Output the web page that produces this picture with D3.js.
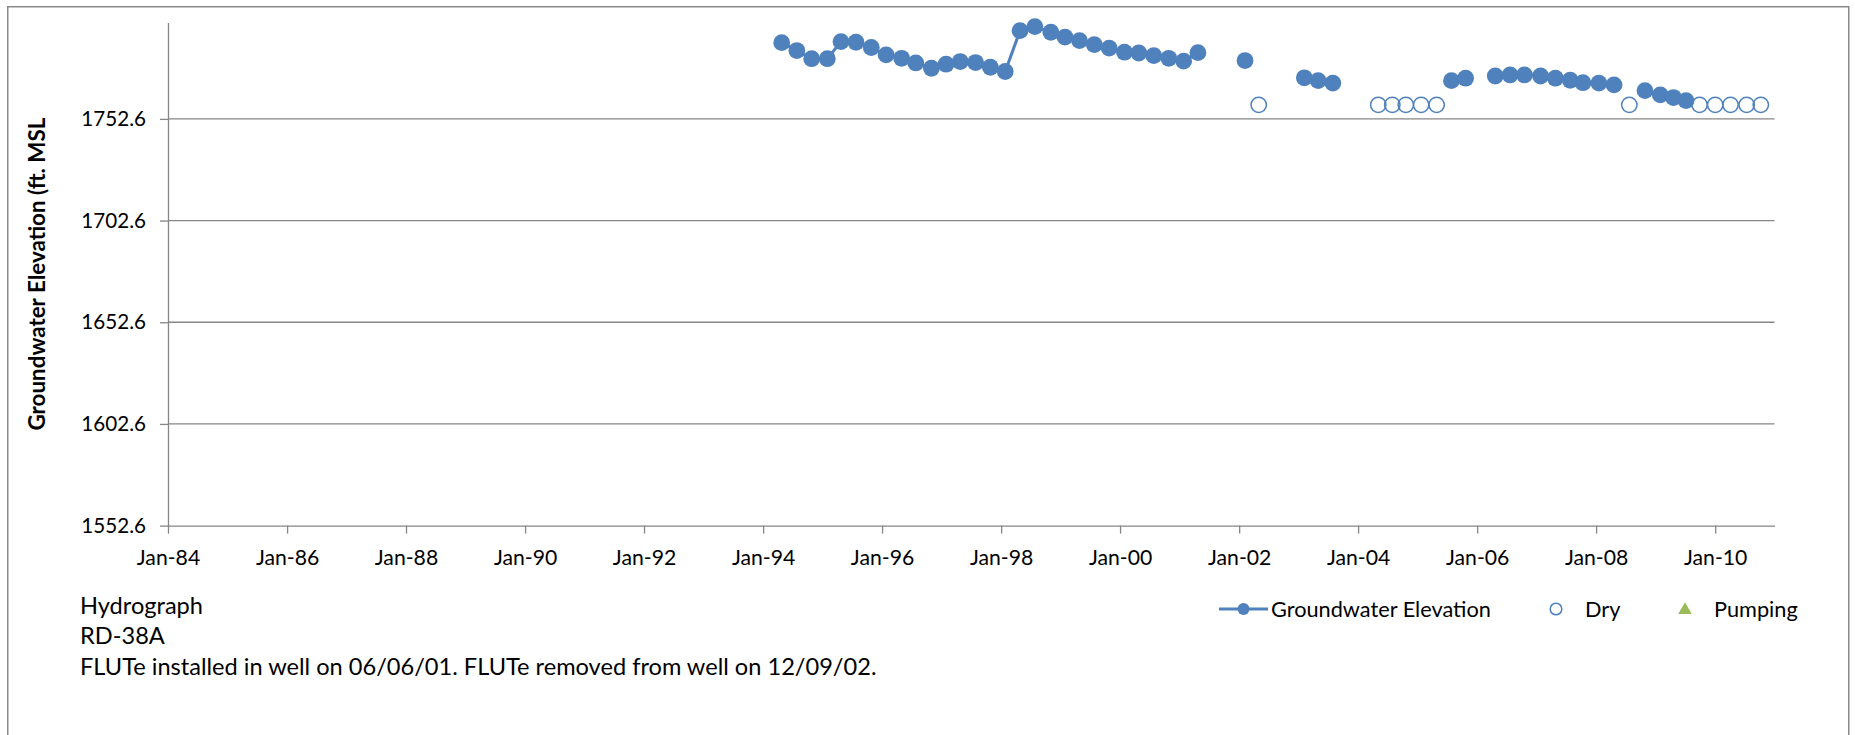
<!DOCTYPE html>
<html><head><meta charset="utf-8">
<script src="https://cdn.jsdelivr.net/npm/d3@7"></script>
<style>body{margin:0;background:#fff;} svg{display:block;}</style>
</head><body>
<svg id="chart" width="1855" height="735"></svg>
<script>
// ---------------- data ----------------
const gwDates = [
  "1994-04-25","1994-07-27","1994-10-26","1995-01-30","1995-04-24","1995-07-25","1995-10-27",
  "1996-01-26","1996-04-30","1996-07-26","1996-10-30","1997-01-28","1997-04-25","1997-07-28",
  "1997-10-27","1998-01-26","1998-04-27","1998-07-27","1998-11-02","1999-01-28","1999-04-27",
  "1999-07-27","1999-10-26","2000-01-28","2000-04-25","2000-07-26","2000-10-26","2001-01-25",
  "2001-04-23","2001-07-15","2002-02-06","2002-05-01","2003-02-05","2003-05-01","2003-07-30",
  "2004-05-04","2005-07-27","2005-10-22","2006-01-15","2006-04-22","2006-07-22","2006-10-18",
  "2007-01-25","2007-04-26","2007-07-26","2007-10-12","2008-01-18","2008-04-20","2008-07-23",
  "2008-10-27","2009-01-29","2009-04-20","2009-07-06","2009-09-27"
];
const gwValues = [
  1790.1,1786.2,1782.2,1782.2,1790.6,1790.3,1787.7,
  1784.1,1782.4,1780.1,1777.5,1779.5,1780.8,1780.3,
  1778.0,1775.9,1796.0,1798.0,1795.2,1792.8,1791.1,
  1789.1,1787.4,1785.4,1785.0,1783.7,1782.4,1781.0,
  1785.2,null,1781.3,null,1772.8,1771.4,1770.2,
  null,1771.4,1772.6,null,1773.7,1774.2,1774.2,
  1773.7,1772.6,1771.6,1770.4,1770.2,1769.3,null,
  1766.5,1764.4,1763.1,1761.6,null
];
const dryDates = [
  "2002-05-01","2004-05-04","2004-07-29","2004-10-20","2005-01-22","2005-04-27",
  "2008-07-23","2009-09-27","2010-01-01","2010-04-05","2010-07-13","2010-10-08"
];
const dryValues = [1759.5,1759.5,1759.5,1759.5,1759.5,1759.5,1759.5,1759.5,1759.5,1759.5,1759.5,1759.5];
const pumpDates = [];
const pumpValues = [];

const yTickValues = [1552.6, 1602.6, 1652.6, 1702.6, 1752.6];
const xTickYears = [1984,1986,1988,1990,1992,1994,1996,1998,2000,2002,2004,2006,2008,2010];
const legendLabels = ["Groundwater Elevation", "Dry", "Pumping"];
const noteLines = ["Hydrograph", "RD-38A",
  "FLUTe installed in well on 06/06/01. FLUTe removed from well on 12/09/02."];
const yTitle = "Groundwater Elevation (ft. MSL";

// ---------------- setup ----------------
const BLUE = "#4F81BD", GREEN = "#9BBB59", GRID = "#868686";
const FONT = "Lato, 'Open Sans', sans-serif";
const svg = d3.select("#chart");
const parse = d3.timeParse("%Y-%m-%d");

function fitSize(text, target, weight) {
  const t = svg.append("text").attr("font-family", FONT).attr("font-size", 20)
    .attr("font-weight", weight || "normal").text(text);
  const w = t.node().getComputedTextLength();
  t.remove();
  return 20 * target / w;
}

// outer border
svg.append("rect").attr("x", 7.75).attr("y", 6.75).attr("width", 1841).attr("height", 800)
  .attr("fill", "none").attr("stroke", "#8a8a8a").attr("stroke-width", 1.5);

const x = d3.scaleTime().domain([new Date(1984, 0, 1), new Date(2010, 11, 31)]).range([168, 1774.5]);
const y = d3.scaleLinear().domain([1552.6, 1800]).range([525.6, 22.5]);

// gridlines
svg.append("g").selectAll("line").data(yTickValues.slice(1)).join("line")
  .attr("x1", x.range()[0]).attr("x2", x.range()[1])
  .attr("y1", d => y(d)).attr("y2", d => y(d))
  .attr("stroke", GRID).attr("stroke-width", 1.3);

const tickFs = fitSize("Jan-84", 63.4);
const yTickFs = fitSize("1702.6", 64.7);

// y axis
const yAxis = svg.append("g").attr("transform", `translate(${x.range()[0]},0)`)
  .call(d3.axisLeft(y).tickValues(yTickValues).tickSize(8).tickSizeOuter(0)
    .tickPadding(14).tickFormat(d3.format(".1f")));
yAxis.select(".domain").attr("stroke", GRID).attr("stroke-width", 1.3);
yAxis.selectAll(".tick line").attr("stroke", GRID).attr("stroke-width", 1.3);
yAxis.selectAll("text").attr("font-family", FONT).attr("font-size", yTickFs).attr("fill", "#000");

// x axis
const xAxis = svg.append("g").attr("transform", `translate(0,${y.range()[0]})`)
  .call(d3.axisBottom(x).tickValues(xTickYears.map(yr => new Date(yr, 0, 1)))
    .tickSize(8).tickSizeOuter(0).tickFormat(d3.timeFormat("%b-%y")));
xAxis.select(".domain").attr("stroke", GRID).attr("stroke-width", 1.3);
xAxis.selectAll(".tick line").attr("stroke", GRID).attr("stroke-width", 1.3);
xAxis.selectAll("text").attr("font-family", FONT).attr("font-size", tickFs).attr("fill", "#000")
  .attr("y", 31.5).attr("dy", "0.35em");

// y title
svg.append("text")
  .attr("transform", `translate(37,${(y.range()[0] + y.range()[1]) / 2}) rotate(-90)`)
  .attr("text-anchor", "middle").attr("dy", "0.35em")
  .attr("font-family", FONT).attr("font-weight", "bold")
  .attr("font-size", fitSize(yTitle, 313, "bold")).text(yTitle);

// data
const gw = gwDates.map((d, i) => ({ date: parse(d), v: gwValues[i] }));
const dry = dryDates.map((d, i) => ({ date: parse(d), v: dryValues[i] }));
const pump = pumpDates.map((d, i) => ({ date: parse(d), v: pumpValues[i] }));

const line = d3.line().defined(d => d.v != null).x(d => x(d.date)).y(d => y(d.v));
svg.append("path").datum(gw).attr("d", line)
  .attr("fill", "none").attr("stroke", BLUE).attr("stroke-width", 3).attr("stroke-linejoin", "round");
svg.append("g").selectAll("circle").data(gw.filter(d => d.v != null)).join("circle")
  .attr("cx", d => x(d.date)).attr("cy", d => y(d.v)).attr("r", 8.4).attr("fill", BLUE);
svg.append("g").selectAll("circle").data(dry).join("circle")
  .attr("cx", d => x(d.date)).attr("cy", d => y(d.v)).attr("r", 7.7)
  .attr("fill", "none").attr("stroke", BLUE).attr("stroke-width", 1.5);
const tri = d3.symbol().type(d3.symbolTriangle).size(90);
svg.append("g").selectAll("path").data(pump).join("path")
  .attr("transform", d => `translate(${x(d.date)},${y(d.v)})`).attr("d", tri()).attr("fill", GREEN);

// legend
const legFs = fitSize(legendLabels[0], 220);
const LY = 609;
const leg = svg.append("g");
leg.append("line").attr("x1", 1219).attr("x2", 1268).attr("y1", LY).attr("y2", LY)
  .attr("stroke", BLUE).attr("stroke-width", 3);
leg.append("circle").attr("cx", 1243.5).attr("cy", LY).attr("r", 6).attr("fill", BLUE);
leg.append("circle").attr("cx", 1556).attr("cy", LY).attr("r", 5.8)
  .attr("fill", "none").attr("stroke", BLUE).attr("stroke-width", 1.5);
leg.append("path").attr("transform", `translate(1685,${LY + 1})`)
  .attr("d", d3.symbol().type(d3.symbolTriangle).size(80)()).attr("fill", GREEN);
const legX = [1271, 1585, 1714];
leg.selectAll("text").data(legendLabels).join("text")
  .attr("x", (d, i) => legX[i]).attr("y", LY).attr("dy", "0.35em")
  .attr("font-family", FONT).attr("font-size", legFs).text(d => d);

// notes
const noteFs = fitSize(noteLines[2], 797);
const noteY = [606, 636, 667];
svg.append("g").selectAll("text").data(noteLines).join("text")
  .attr("x", 80).attr("y", (d, i) => noteY[i]).attr("dy", "0.35em")
  .attr("font-family", FONT).attr("font-size", noteFs).text(d => d);
</script>
</body></html>
